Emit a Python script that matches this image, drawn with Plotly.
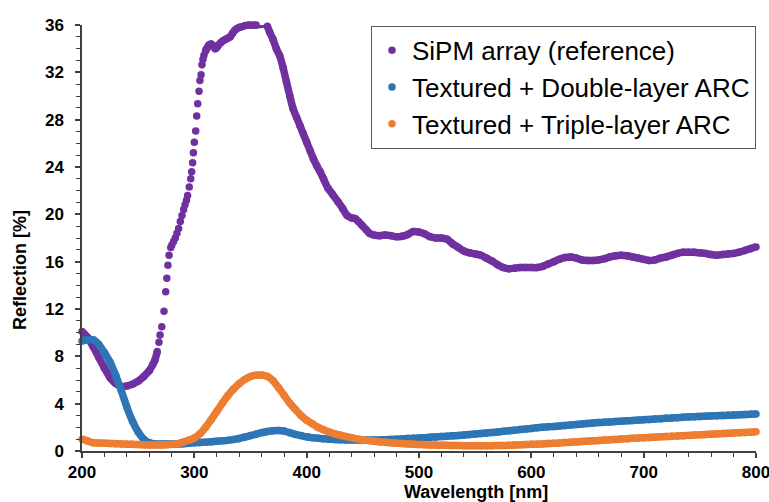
import plotly.graph_objects as go

# ---------------- data ----------------
sipm_wl = [200, 205, 210, 215, 220, 225, 230, 235, 240, 245, 250, 255, 260, 263, 265, 267,
           268.5, 269.5, 271, 273, 274.5, 275.5, 276.5, 277.5, 279, 280, 281.5, 283, 284.5, 286,
           287.5, 289, 290.5, 291.7, 293, 294, 295.5, 296.8, 297.6, 298.5, 299.2, 300, 301.2, 302.1,
           303, 304.2, 305, 306, 306.8, 307.7, 308.6, 310, 311, 313, 315, 317, 318.5, 320, 321.5,
           323.5, 326, 328, 330, 332, 334, 336, 338, 340, 342, 345, 348, 350, 353, 355, 358, 360, 363,
           365, 367, 370, 373, 376, 379, 382, 385, 388, 391, 394, 397, 400, 403, 406, 409, 412, 415,
           419, 423, 428, 432, 436, 440, 443, 446, 449, 453, 456, 460, 465, 470, 475, 480, 485, 490,
           495, 500, 505, 510, 515, 520, 525, 530, 535, 540, 545, 550, 555, 560, 565, 570, 575, 580,
           585, 590, 595, 600, 605, 610, 615, 620, 625, 630, 635, 640, 645, 650, 655, 660, 665, 670,
           675, 680, 685, 690, 695, 700, 705, 710, 715, 720, 725, 730, 735, 740, 745, 750, 755, 760,
           765, 770, 775, 780, 785, 790, 795, 800]
sipm_refl = [10.1, 9.6, 8.8, 7.9, 7.0, 6.2, 5.7, 5.45, 5.5, 5.65, 5.9, 6.3, 6.8, 7.3, 7.7, 8.4,
             9.2, 9.8, 10.5, 11.8, 13.45, 14.6, 15.7, 16.55, 17.2, 17.4, 17.7, 18.0, 18.4, 18.8,
             19.4, 19.9, 20.4, 20.8, 21.2, 21.6, 22.3, 23.0, 23.6, 24.35, 25.2, 26.1, 27.05, 28.3,
             29.35, 30.4, 31.3, 31.8, 32.65, 33.1, 33.45, 33.8, 34.0, 34.3, 34.4, 34.2, 34.0, 34.1, 34.3,
             34.5, 34.7, 34.8, 34.9, 35.0, 35.3, 35.55, 35.7, 35.8, 35.85, 35.95, 36.0, 36.0, 36.0, 36.0, 36.05, 36.05, 36.1,
             35.9, 35.4, 34.8, 34.0, 33.4, 32.4, 31.2, 30.0, 28.9, 28.2, 27.5, 26.8, 26.1, 25.4, 24.7, 24.1, 23.6, 23.0,
             22.2, 21.7, 21.05, 20.5, 19.9, 19.7, 19.65, 19.4, 19.1, 18.7, 18.4, 18.25, 18.2, 18.25, 18.2, 18.1, 18.15, 18.3,
             18.55, 18.5, 18.35, 18.1, 18.0, 18.0, 17.9, 17.5, 17.2, 16.9, 16.75, 16.65, 16.55, 16.3, 16.05, 15.75, 15.5, 15.4,
             15.45, 15.5, 15.5, 15.5, 15.5, 15.6, 15.8, 16.0, 16.2, 16.35, 16.4, 16.3, 16.15, 16.1, 16.1, 16.15, 16.25, 16.4,
             16.5, 16.55, 16.5, 16.4, 16.3, 16.2, 16.1, 16.15, 16.3, 16.4, 16.55, 16.7, 16.8, 16.8, 16.8, 16.75, 16.7, 16.6,
             16.55, 16.6, 16.65, 16.7, 16.8, 16.95, 17.1, 17.25]

wl5 = list(range(200, 801, 5))

double_refl = [9.3, 9.4, 9.4, 9.0, 8.3, 7.5, 6.4, 5.1, 3.7, 2.5, 1.6, 1.0, 0.7, 0.6, 0.6, 0.6, 0.6, 0.6,
               0.62, 0.65, 0.7, 0.72, 0.75, 0.78, 0.82, 0.86, 0.9, 0.98, 1.06, 1.18, 1.3, 1.42, 1.55, 1.65,
               1.72, 1.73, 1.68, 1.55, 1.4, 1.3, 1.2, 1.13, 1.08, 1.03, 1.0, 0.97, 0.95, 0.93, 0.92, 0.92,
               0.92, 0.93, 0.93, 0.94, 0.96, 0.98, 1.0, 1.02, 1.05, 1.07, 1.1, 1.13, 1.16, 1.19, 1.22, 1.25,
               1.28, 1.31, 1.35, 1.39, 1.43, 1.47, 1.52, 1.56, 1.61, 1.66, 1.71, 1.76, 1.81, 1.86, 1.91, 1.96,
               2.0, 2.04, 2.08, 2.12, 2.16, 2.2, 2.24, 2.28, 2.32, 2.36, 2.4, 2.43, 2.46, 2.49, 2.52, 2.55,
               2.58, 2.61, 2.64, 2.67, 2.7, 2.73, 2.76, 2.79, 2.82, 2.85, 2.88, 2.9, 2.92, 2.94, 2.96, 2.98,
               3.0, 3.02, 3.04, 3.06, 3.08, 3.1, 3.12]

triple_refl = [1.0, 0.85, 0.7, 0.68, 0.66, 0.64, 0.62, 0.6, 0.58, 0.56, 0.54, 0.52, 0.5, 0.5, 0.5, 0.52,
               0.56, 0.62, 0.75, 0.9, 1.1, 1.45, 2.0, 2.65, 3.35, 4.05, 4.7, 5.25, 5.7, 6.05, 6.3, 6.4,
               6.42, 6.3, 5.95, 5.35, 4.7, 4.05, 3.5, 3.0, 2.6, 2.3, 2.0, 1.8, 1.6, 1.45, 1.33, 1.22, 1.12,
               1.02, 0.95, 0.88, 0.82, 0.77, 0.73, 0.69, 0.66, 0.63, 0.6, 0.57, 0.55, 0.53, 0.51, 0.5, 0.49,
               0.48, 0.47, 0.46, 0.45, 0.45, 0.44, 0.44, 0.44, 0.45, 0.46, 0.47, 0.48, 0.5, 0.52, 0.54, 0.56,
               0.58, 0.6, 0.63, 0.65, 0.68, 0.71, 0.74, 0.77, 0.8, 0.83, 0.86, 0.89, 0.92, 0.95, 0.98, 1.01,
               1.04, 1.07, 1.1, 1.12, 1.145, 1.17, 1.195, 1.22, 1.245, 1.27, 1.295, 1.32, 1.345, 1.37, 1.395,
               1.42, 1.445, 1.47, 1.495, 1.52, 1.545, 1.57, 1.595, 1.62]

names = ["SiPM array (reference)", "Textured + Double-layer ARC", "Textured + Triple-layer ARC"]
colors = ["#7030A0", "#2E75B6", "#ED7D31"]

x_ticks = [200, 300, 400, 500, 600, 700, 800]
y_ticks = [0, 4, 8, 12, 16, 20, 24, 28, 32, 36]

# the steep rising edge of the SiPM curve is sampled sparsely (isolated dots);
# elsewhere the dense measurement points merge into a continuous band
steep_lo, steep_hi = 267, 309

# ---------------- figure ----------------
fig = go.Figure()
series = [(sipm_wl, sipm_refl), (wl5, double_refl), (wl5, triple_refl)]
for i, ((xs, ys), nm, c) in enumerate(zip(series, names, colors)):
    if i == 0:
        band_y = [None if steep_lo < x < steep_hi else y for x, y in zip(xs, ys)]
    else:
        band_y = ys
    fig.add_trace(go.Scatter(
        x=xs, y=band_y, mode="lines", showlegend=False, hoverinfo="skip",
        line=dict(color=c, width=7.5, shape="spline", smoothing=0.6),
        connectgaps=False, cliponaxis=False, legendgroup=str(i),
    ))
    fig.add_trace(go.Scatter(
        x=xs, y=ys, mode="markers", name=nm, legendgroup=str(i),
        marker=dict(color=c, size=7.5, line=dict(width=0)),
        cliponaxis=False,
    ))

axis_col = "#404040"
tickfont = dict(family="Liberation Sans, Arial, sans-serif", size=17, color="black", weight="bold")

fig.update_layout(
    width=769, height=502,
    margin=dict(l=82, r=13, t=25, b=51, autoexpand=False),
    paper_bgcolor="white", plot_bgcolor="white",
    showlegend=True,
    legend=dict(
        x=1.0, y=0.998, xanchor="right", yanchor="top",
        bgcolor="white", bordercolor="#595959", borderwidth=1,
        font=dict(family="Liberation Sans, Arial, sans-serif", size=26, color="black"),
        tracegroupgap=0, itemsizing="trace", itemwidth=30,
    ),
    xaxis=dict(
        range=[200, 800], tickvals=x_ticks, ticktext=[str(v) for v in x_ticks],
        showline=True, linecolor=axis_col, linewidth=1.5, automargin=False,
        ticks="outside", ticklen=5, tickcolor=axis_col, tickwidth=1.5,
        minor=dict(dtick=20, ticks="outside", ticklen=4, tickcolor=axis_col, tickwidth=1),
        showgrid=False, zeroline=False, tickfont=tickfont, ticklabeloverflow="allow",
    ),
    yaxis=dict(
        range=[0, 36], tickvals=y_ticks, ticktext=[str(v) for v in y_ticks],
        showline=True, linecolor=axis_col, linewidth=1.5, automargin=False,
        ticks="outside", ticklen=5, tickcolor=axis_col, tickwidth=1.5,
        minor=dict(dtick=1, ticks="outside", ticklen=4, tickcolor=axis_col, tickwidth=1),
        showgrid=False, zeroline=False, tickfont=tickfont, ticklabelstandoff=8,
        ticklabeloverflow="allow",
    ),
    annotations=[
        dict(text="<b>Wavelength [nm]</b>", xref="paper", yref="paper", x=0.585, y=-0.097,
             xanchor="center", yanchor="middle", showarrow=False,
             font=dict(family="Liberation Sans, Arial, sans-serif", size=18, color="black")),
        dict(text="<b>Reflection [%]</b>", xref="paper", yref="paper", x=-0.092, y=0.425,
             xanchor="center", yanchor="middle", showarrow=False, textangle=-90,
             font=dict(family="Liberation Sans, Arial, sans-serif", size=18, color="black")),
    ],
)

fig.write_html("out.html")
